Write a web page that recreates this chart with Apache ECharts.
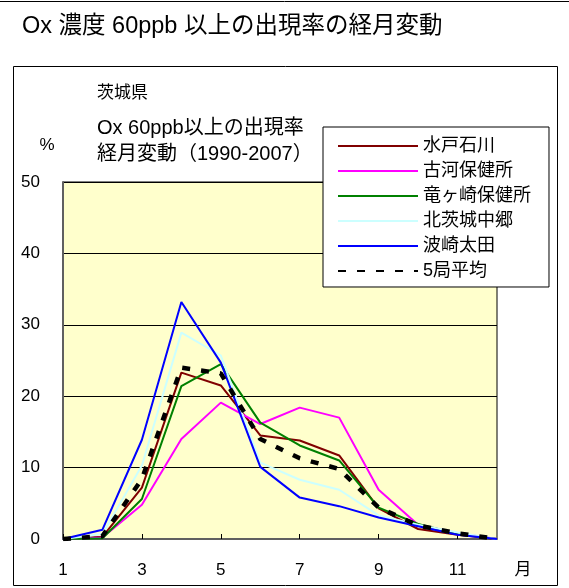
<!DOCTYPE html>
<html><head><meta charset="utf-8">
<script src="https://cdn.jsdelivr.net/npm/echarts@6/dist/echarts.min.js"></script>
<style>html,body{margin:0;padding:0;background:#fff}#c{width:569px;height:588px}</style>
</head><body><div id="c"></div>
<script>
const months = ['1','2','3','4','5','6','7','8','9','10','11','12'];
const seriesNames = ['水戸石川','古河保健所','竜ヶ崎保健所','北茨城中郷','波崎太田','5局平均'];
const mitoIshikawa   = [0, 0.3, 7.2, 23.3, 21.5, 14.5, 13.8, 11.7, 4.3, 1.4, 0.6, 0];
const kogaHoken      = [0, 0.2, 4.8, 14.0, 19.1, 16.1, 18.4, 17.0, 6.9, 2.0, 0.8, 0];
const ryugasakiHoken = [0, 0.1, 5.6, 21.4, 24.5, 16.3, 13.1, 11.0, 4.4, 2.1, 0.7, 0];
const kitaibaraki    = [0, 0.7, 10.3, 28.9, 25.7, 10.7, 8.3, 6.9, 3.3, 2.0, 0.9, 0];
const hasakiOota     = [0, 1.3, 13.9, 33.2, 24.7, 10.1, 5.8, 4.6, 3.0, 1.8, 0.6, 0];
const average5       = [0, 0.4, 8.4, 24.0, 23.2, 14.0, 11.3, 9.8, 4.4, 1.9, 0.8, 0];
const yTicks = { min: 0, max: 50, interval: 10 };

const FONT = "'Liberation Sans','Noto Sans CJK JP',sans-serif";
const chart = echarts.init(document.getElementById('c'), null, {renderer:'canvas'});
const colors = ['#800000','#FF00FF','#008000','#CCFFFF','#0000FF','#000000'];
const dataSets = [mitoIshikawa, kogaHoken, ryugasakiHoken, kitaibaraki, hasakiOota, average5];
const series = dataSets.map((d, i) => ({
  name: seriesNames[i],
  type: 'line',
  data: d,
  symbol: 'none',
  animation: false,
  z: i === 5 ? 10 : 3,
  lineStyle: i === 5 ? {color: '#000', width: 4.5, type: [8, 11]} : {color: colors[i], width: 2}
}));

chart.setOption({
  animation: false,
  color: colors,
  textStyle: {fontFamily: FONT},
  grid: {left: 63, top: 182, width: 434, height: 357, show: true, backgroundColor: '#FFFFCC', borderColor: '#000', borderWidth: 1},
  legend: {
    orient: 'vertical', left: 323, top: 127,
    itemWidth: 80, itemHeight: 14, itemGap: 7,
    padding: [10, 18, 7, 14],
    backgroundColor: '#fff', borderColor: '#000', borderWidth: 1,
    itemStyle: {opacity: 0},
    textStyle: {fontSize: 18, color: '#000', fontFamily: FONT},
    data: seriesNames
  },
  xAxis: {
    type: 'category', data: months, boundaryGap: false,
    axisLine: {lineStyle: {color: '#606060', width: 2}},
    axisTick: {inside: true, length: 5, lineStyle: {color: '#000'}},
    axisLabel: {interval: 1, fontSize: 17, color: '#000', margin: 23, fontFamily: FONT},
    splitLine: {show: false}
  },
  yAxis: {
    type: 'value', min: yTicks.min, max: yTicks.max, interval: yTicks.interval,
    axisLine: {show: true, lineStyle: {color: '#606060', width: 2}},
    axisTick: {show: false},
    axisLabel: {fontSize: 17, color: '#000', margin: 23, fontFamily: FONT},
    splitLine: {lineStyle: {color: '#000', width: 1}}
  },
  series: series,
  graphic: [
    {type: 'line', shape: {x1: 0, y1: 1.5, x2: 569, y2: 1.5}, style: {stroke: '#000', lineWidth: 1}, silent: true},
    {type: 'rect', shape: {x: 13.5, y: 66.5, width: 544, height: 519}, style: {fill: 'none', stroke: '#000', lineWidth: 1}, silent: true, z: -1},
    {type: 'text', style: {x: 22, y: 27, text: 'Ox 濃度 60ppb 以上の出現率の経月変動', font: '23.5px ' + FONT, fill: '#000', textVerticalAlign: 'middle'}},
    {type: 'text', style: {x: 97, y: 93, text: '茨城県', font: '17px ' + FONT, fill: '#000', textVerticalAlign: 'middle'}},
    {type: 'text', style: {x: 97, y: 128, text: 'Ox 60ppb以上の出現率', font: '20px ' + FONT, fill: '#000', textVerticalAlign: 'middle'}},
    {type: 'text', style: {x: 97, y: 154, text: '経月変動（1990-2007）', font: '20px ' + FONT, fill: '#000', textVerticalAlign: 'middle'}},
    {type: 'text', style: {x: 47, y: 145, text: '%', font: '17px ' + FONT, fill: '#000', textAlign: 'center', textVerticalAlign: 'middle'}},
    {type: 'text', style: {x: 523, y: 570, text: '月', font: '17px ' + FONT, fill: '#000', textAlign: 'center', textVerticalAlign: 'middle'}}
  ]
});
</script></body></html>
